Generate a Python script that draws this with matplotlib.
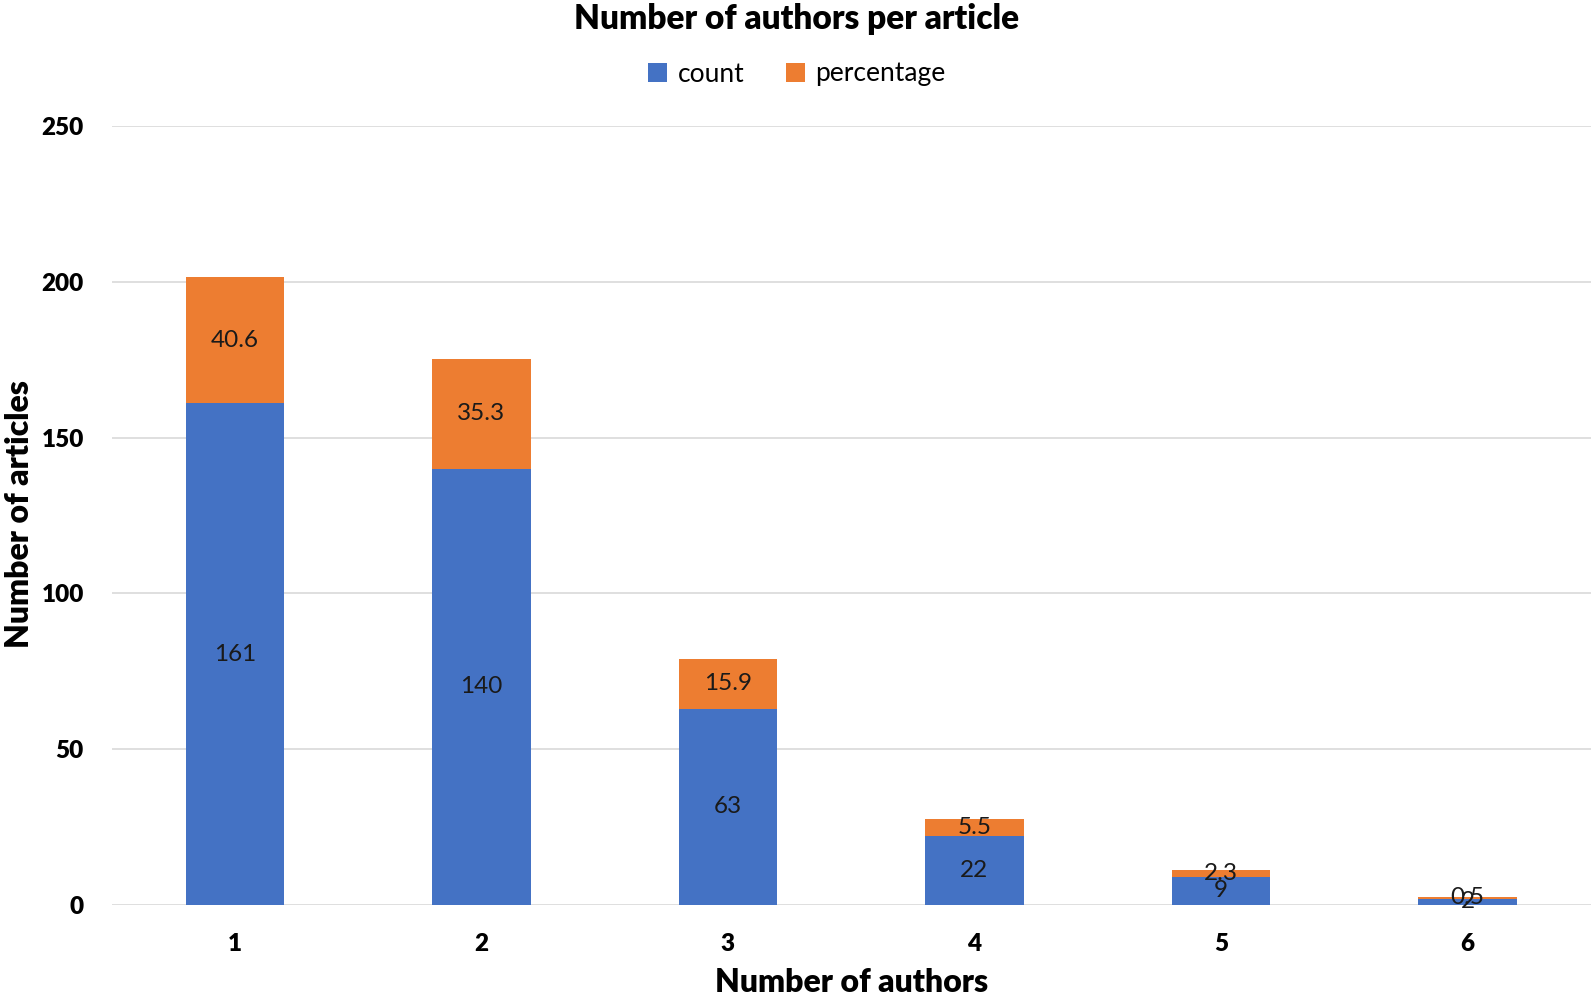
import matplotlib.pyplot as plt
import numpy as np

categories = ['1', '2', '3', '4', '5', '6']
count = [161, 140, 63, 22, 9, 2]
percentage = [40.6, 35.3, 15.9, 5.5, 2.3, 0.5]

plt.rcParams['font.family'] = ['Lato', 'DejaVu Sans']

fig = plt.figure(figsize=(15.94, 10.0), dpi=100)
ax = fig.add_axes([0.070, 0.095, 0.928, 0.779])

x = np.arange(len(categories))
b1 = ax.bar(x, count, width=0.4, color='#4472C4', label='count', zorder=3)
b2 = ax.bar(x, percentage, width=0.4, bottom=count, color='#ED7D31', label='percentage', zorder=3)

ax.bar_label(b1, labels=[str(v) for v in count], label_type='center', fontsize=17.5, color='#1a1a1a')
ax.bar_label(b2, labels=[str(v) for v in percentage], label_type='center', fontsize=17.5, color='#1a1a1a')

ax.set_xlim(-0.5, len(categories) - 0.5)
ax.set_ylim(0, 250)
ax.set_yticks([0, 50, 100, 150, 200, 250])
ax.set_xticks(x)
ax.set_xticklabels(categories)
ax.grid(axis='y', color='#D9D9D9', linewidth=1.2, zorder=0)
for s in ax.spines.values():
    s.set_visible(False)
ax.tick_params(length=0, labelsize=17.5)
for t in ax.get_xticklabels() + ax.get_yticklabels():
    t.set_fontweight('heavy')
ax.tick_params(axis='x', pad=20)
ax.tick_params(axis='y', pad=20)

# axis titles placed by hand so they stay inside the canvas
fig.text(0.534, 0.017, 'Number of authors', ha='center', va='center',
         fontsize=23, fontweight='heavy')
fig.text(0.012, 0.486, 'Number of articles', ha='center', va='center',
         rotation=90, fontsize=23, fontweight='heavy')

fig.text(0.5, 0.997, 'Number of authors per article', ha='center', va='top',
         fontsize=24, fontweight='heavy')
fig.legend(loc='center', bbox_to_anchor=(0.5, 0.926), ncol=2, frameon=False,
           fontsize=19, handlelength=0.7, handleheight=0.7, handletextpad=0.4,
           columnspacing=1.6)

fig.savefig('out.png', dpi=100)
